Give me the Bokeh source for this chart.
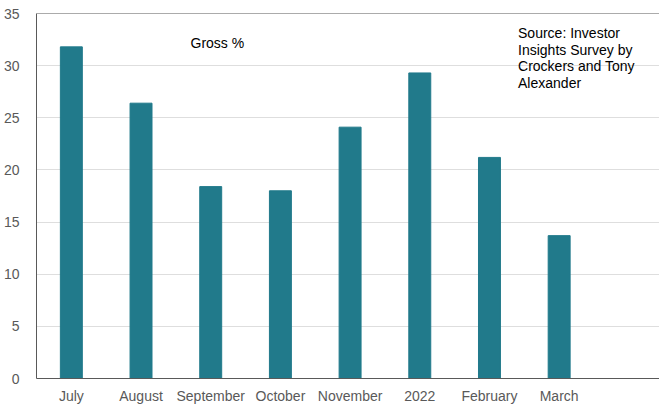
from bokeh.plotting import figure
from bokeh.models import Range1d, FixedTicker, Label, ColumnDataSource, Span
from bokeh.embed import file_html
from bokeh.resources import INLINE

categories = ["July", "August", "September", "October", "November", "2022", "February", "March"]
gross = [31.8, 26.4, 18.4, 18.0, 24.1, 29.3, 21.2, 13.7]
y_ticks = [0, 5, 10, 15, 20, 25, 30, 35]

xs = list(range(len(categories)))
src = ColumnDataSource(dict(x=xs, top=gross))

FONT = "Liberation Sans"

p = figure(width=659, height=407, output_backend="svg", toolbar_location=None,
           x_range=Range1d(-0.5, 8.44), y_range=Range1d(0, 35),
           min_border_left=36, min_border_right=0, min_border_top=13, min_border_bottom=29)

p.vbar(x="x", top="top", width=0.315, source=src, fill_color="#217a8b", line_color="#217a8b")

p.xaxis.ticker = FixedTicker(ticks=xs)
p.xaxis.major_label_overrides = {i: c for i, c in enumerate(categories)}
p.yaxis.ticker = FixedTicker(ticks=y_ticks)

for ax in (p.xaxis, p.yaxis):
    ax.major_tick_line_color = None
    ax.minor_tick_line_color = None
    ax.axis_line_color = "#595959"
    ax.axis_line_width = 1
    ax.major_label_text_font = FONT
    ax.major_label_text_font_size = "14px"
    ax.major_label_text_color = "#595959"
p.xaxis.major_label_standoff = 3
p.yaxis.major_label_standoff = 11

p.xgrid.grid_line_color = None
p.ygrid.grid_line_color = "#dedede"
p.ygrid.grid_line_width = 1
p.outline_line_color = None
p.add_layout(Span(location=35, dimension="width", line_color="#595959", line_width=1))

p.add_layout(Label(x=1.71, y=32.9, text="Gross %", text_font=FONT, text_font_size="14px",
                   text_color="#000000", text_baseline="top", text_align="left"))
p.add_layout(Label(x=6.41, y=33.9,
                   text="Source: Investor\nInsights Survey by\nCrockers and Tony\nAlexander",
                   text_font=FONT, text_font_size="14px", text_color="#000000",
                   text_baseline="top", text_align="left", text_line_height=1.04))

open("out.html", "w").write(file_html(p, INLINE))
